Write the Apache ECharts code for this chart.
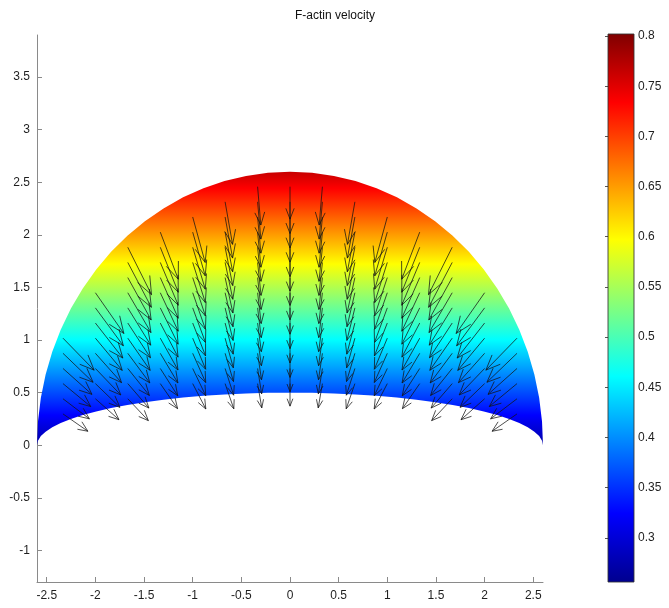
<!DOCTYPE html>
<html>
<head>
<meta charset="utf-8">
<style>html,body{margin:0;padding:0;background:#fff}#c{width:669px;height:608px}</style>
<script src="https://cdn.jsdelivr.net/npm/echarts@6/dist/echarts.min.js"></script>
</head>
<body>
<div id="c"></div>
<script>
// ---- tick labels ----
const xTicks = [-2.5, -2, -1.5, -1, -0.5, 0, 0.5, 1, 1.5, 2, 2.5];
const yTicks = [-1, -0.5, 0, 0.5, 1, 1.5, 2, 2.5, 3, 3.5];
const cbTicks = [0.3, 0.35, 0.4, 0.45, 0.5, 0.55, 0.6, 0.65, 0.7, 0.75, 0.8];
const cbRange = [0.256, 0.802];

// ---- lamellipodium outline ----
const boundaryX = [-2.6, -2.59, -2.5605, -2.5114, -2.4432, -2.3564, -2.2517, -2.1298, -1.9917, -1.8385, -1.6713, -1.4913, -1.3, -1.0988, -0.8893, -0.6729, -0.4515, -0.2266, 0,
  0.2266, 0.4515, 0.6729, 0.8893, 1.0988, 1.3, 1.4913, 1.6713, 1.8385, 1.9917, 2.1298, 2.2517, 2.3564, 2.4432, 2.5114, 2.5605, 2.59, 2.6];
const upperY = [0, 0.2266, 0.4515, 0.6729, 0.8893, 1.0988, 1.3, 1.4913, 1.6713, 1.8385, 1.9917, 2.1298, 2.2517, 2.3564, 2.4432, 2.5114, 2.5605, 2.5901, 2.6,
  2.5901, 2.5605, 2.5114, 2.4432, 2.3564, 2.2517, 2.1298, 1.9917, 1.8385, 1.6713, 1.4913, 1.3, 1.0988, 0.8893, 0.6729, 0.4515, 0.2266, 0];
const lowerY = [0, 0.0436, 0.0868, 0.1294, 0.171, 0.2113, 0.25, 0.2868, 0.3214, 0.3536, 0.383, 0.4096, 0.433, 0.4532, 0.4698, 0.483, 0.4924, 0.4981, 0.5,
  0.4981, 0.4924, 0.483, 0.4698, 0.4532, 0.433, 0.4096, 0.383, 0.3536, 0.3214, 0.2868, 0.25, 0.2113, 0.171, 0.1294, 0.0868, 0.0436, 0];

// colour value at the rear and at the front of the region
const fieldY = [0, 2.6];
const fieldV = [0.27, 0.764];

// ---- jet colormap ----
const jetPos = [0, 0.125, 0.375, 0.625, 0.875, 1];
const jetColors = ['#00008f', '#0000ff', '#00ffff', '#ffff00', '#ff0000', '#800000'];

// ---- velocity arrows: tail positions per column and components ----
const colX = [-2.333, -2, -1.667, -1.333, -1, -0.667, -0.333, 0, 0.333, 0.667, 1, 1.333, 1.667, 2, 2.333];
const colY = [
  [0.298, 0.442, 0.586, 0.73, 0.874, 1.018],
  [0.442, 0.586, 0.73, 0.874, 1.018, 1.162, 1.306, 1.45],
  [0.442, 0.586, 0.73, 0.874, 1.018, 1.162, 1.306, 1.45, 1.594, 1.738, 1.882],
  [0.586, 0.73, 0.874, 1.018, 1.162, 1.306, 1.45, 1.594, 1.738, 1.882, 2.026],
  [0.586, 0.73, 0.874, 1.018, 1.162, 1.306, 1.45, 1.594, 1.738, 1.882, 2.026, 2.17],
  [0.586, 0.73, 0.874, 1.018, 1.162, 1.306, 1.45, 1.594, 1.738, 1.882, 2.026, 2.17, 2.314],
  [0.586, 0.73, 0.874, 1.018, 1.162, 1.306, 1.45, 1.594, 1.738, 1.882, 2.026, 2.17, 2.314, 2.458],
  [0.586, 0.73, 0.874, 1.018, 1.162, 1.306, 1.45, 1.594, 1.738, 1.882, 2.026, 2.17, 2.314, 2.458],
  [0.586, 0.73, 0.874, 1.018, 1.162, 1.306, 1.45, 1.594, 1.738, 1.882, 2.026, 2.17, 2.314, 2.458],
  [0.586, 0.73, 0.874, 1.018, 1.162, 1.306, 1.45, 1.594, 1.738, 1.882, 2.026, 2.17, 2.314],
  [0.586, 0.73, 0.874, 1.018, 1.162, 1.306, 1.45, 1.594, 1.738, 1.882, 2.026, 2.17],
  [0.586, 0.73, 0.874, 1.018, 1.162, 1.306, 1.45, 1.594, 1.738, 1.882, 2.026],
  [0.442, 0.586, 0.73, 0.874, 1.018, 1.162, 1.306, 1.45, 1.594, 1.738, 1.882],
  [0.442, 0.586, 0.73, 0.874, 1.018, 1.162, 1.306, 1.45],
  [0.298, 0.442, 0.586, 0.73, 0.874, 1.018]
];
const colU = [
  [0.256, 0.2715, 0.2853, 0.298, 0.3094, 0.32],
  [0.2428, 0.2526, 0.2613, 0.2691, 0.276, 0.2821, 0.2876, 0.2925],
  [0.2111, 0.2169, 0.2219, 0.2262, 0.2299, 0.2331, 0.2359, 0.2383, 0.2404, 0.2422, 0.2437],
  [0.1778, 0.1795, 0.1809, 0.182, 0.1829, 0.1835, 0.184, 0.1844, 0.1847, 0.1849, 0.185],
  [0.1351, 0.1345, 0.1338, 0.1332, 0.1325, 0.1318, 0.1311, 0.1305, 0.1299, 0.1293, 0.1288, 0.1282],
  [0.0895, 0.0878, 0.0863, 0.0848, 0.0836, 0.0824, 0.0814, 0.0805, 0.0796, 0.0788, 0.078, 0.0773, 0.0767],
  [0.0431, 0.0417, 0.0405, 0.0394, 0.0384, 0.0376, 0.0368, 0.0362, 0.0356, 0.035, 0.0345, 0.034, 0.0336, 0.0332],
  [0, 0, 0, 0, 0, 0, 0, 0, 0, 0, 0, 0, 0, 0],
  [-0.0431, -0.0417, -0.0405, -0.0394, -0.0384, -0.0376, -0.0368, -0.0362, -0.0356, -0.035, -0.0345, -0.034, -0.0336, -0.0332],
  [-0.0895, -0.0878, -0.0863, -0.0848, -0.0836, -0.0824, -0.0814, -0.0805, -0.0796, -0.0788, -0.078, -0.0773, -0.0767],
  [-0.1351, -0.1345, -0.1338, -0.1332, -0.1325, -0.1318, -0.1311, -0.1305, -0.1299, -0.1293, -0.1288, -0.1282],
  [-0.1778, -0.1795, -0.1809, -0.182, -0.1829, -0.1835, -0.184, -0.1844, -0.1847, -0.1849, -0.185],
  [-0.2111, -0.2169, -0.2219, -0.2262, -0.2299, -0.2331, -0.2359, -0.2383, -0.2404, -0.2422, -0.2437],
  [-0.2428, -0.2526, -0.2613, -0.2691, -0.276, -0.2821, -0.2876, -0.2925],
  [-0.256, -0.2715, -0.2853, -0.298, -0.3094, -0.32]
];
const colV = [
  [-0.165, -0.191, -0.2184, -0.2465, -0.2751, -0.3041],
  [-0.1993, -0.2255, -0.2521, -0.279, -0.3061, -0.3331, -0.3603, -0.3875],
  [-0.2079, -0.2324, -0.2569, -0.2815, -0.3059, -0.3303, -0.3546, -0.3788, -0.4029, -0.4268, -0.4506],
  [-0.2382, -0.2599, -0.2815, -0.3028, -0.3241, -0.345, -0.3658, -0.3865, -0.407, -0.4274, -0.4477],
  [-0.2412, -0.2595, -0.2775, -0.2954, -0.3129, -0.3304, -0.3476, -0.3646, -0.3817, -0.3986, -0.4154, -0.4321],
  [-0.2396, -0.254, -0.2682, -0.2821, -0.296, -0.3097, -0.3234, -0.337, -0.3505, -0.364, -0.3773, -0.3907, -0.4041],
  [-0.231, -0.2415, -0.252, -0.2624, -0.2726, -0.2829, -0.2932, -0.3035, -0.3137, -0.3238, -0.334, -0.3442, -0.3544, -0.3646],
  [-0.2143, -0.2215, -0.2287, -0.2359, -0.2431, -0.2503, -0.2575, -0.2647, -0.2719, -0.2791, -0.2863, -0.2935, -0.3007, -0.3079],
  [-0.231, -0.2415, -0.252, -0.2624, -0.2726, -0.2829, -0.2932, -0.3035, -0.3137, -0.3238, -0.334, -0.3442, -0.3544, -0.3646],
  [-0.2396, -0.254, -0.2682, -0.2821, -0.296, -0.3097, -0.3234, -0.337, -0.3505, -0.364, -0.3773, -0.3907, -0.4041],
  [-0.2412, -0.2595, -0.2775, -0.2954, -0.3129, -0.3304, -0.3476, -0.3646, -0.3817, -0.3986, -0.4154, -0.4321],
  [-0.2382, -0.2599, -0.2815, -0.3028, -0.3241, -0.345, -0.3658, -0.3865, -0.407, -0.4274, -0.4477],
  [-0.2079, -0.2324, -0.2569, -0.2815, -0.3059, -0.3303, -0.3546, -0.3788, -0.4029, -0.4268, -0.4506],
  [-0.1993, -0.2255, -0.2521, -0.279, -0.3061, -0.3331, -0.3603, -0.3875],
  [-0.165, -0.191, -0.2184, -0.2465, -0.2751, -0.3041]
];

// ---- build option ----
const arrowData = [];
colX.forEach((x, c) => {
  colY[c].forEach((y, r) => arrowData.push([x, y, colU[c][r], colV[c][r]]));
});

function yForValue(v) {
  return fieldY[0] + (v - fieldV[0]) * (fieldY[1] - fieldY[0]) / (fieldV[1] - fieldV[0]);
}
function jetStops() {
  return jetPos.map((p, i) => ({ offset: p, color: jetColors[i] }));
}

const FONT = 'Liberation Sans';
const axisGray = '#8a8a8a';
const labelColor = '#1e1e1e';

const chart = echarts.init(document.getElementById('c'), null, { renderer: 'canvas' });

const option = {
  backgroundColor: '#ffffff',
  animation: false,
  title: {
    text: 'F-actin velocity',
    left: 330, top: 5, textAlign: 'center',
    textStyle: { fontFamily: FONT, fontSize: 12, fontWeight: 'normal', color: '#111' }
  },
  grid: [
    { left: 37, top: 35, width: 506, height: 547, outerBoundsMode: 'none', containLabel: false },
    { left: 608, top: 34, width: 26, height: 548, outerBoundsMode: 'none', containLabel: false }
  ],
  xAxis: [
    {
      gridIndex: 0, type: 'value', min: -2.6, max: 2.6,
      axisLine: { show: true, onZero: false, lineStyle: { color: axisGray, width: 1 } },
      axisTick: { show: true, inside: true, length: 5, customValues: xTicks, lineStyle: { color: axisGray } },
      axisLabel: { show: true, customValues: xTicks, margin: 8, fontFamily: FONT, fontSize: 12, color: labelColor,
        showMinLabel: true, showMaxLabel: true },
      splitLine: { show: false }
    },
    { gridIndex: 1, type: 'value', min: 0, max: 1, show: false }
  ],
  yAxis: [
    {
      gridIndex: 0, type: 'value', min: -1.3, max: 3.9,
      axisLine: { show: true, onZero: false, lineStyle: { color: axisGray, width: 1 } },
      axisTick: { show: true, inside: true, length: 5, customValues: yTicks, lineStyle: { color: axisGray } },
      axisLabel: { show: true, customValues: yTicks, margin: 7, fontFamily: FONT, fontSize: 12, color: labelColor },
      splitLine: { show: false }
    },
    {
      gridIndex: 1, type: 'value', min: cbRange[0], max: cbRange[1], position: 'right',
      axisLine: { show: false },
      axisTick: { show: true, inside: true, length: 3, customValues: cbTicks, lineStyle: { color: '#555' } },
      axisLabel: { show: true, customValues: cbTicks, margin: 4, fontFamily: FONT, fontSize: 12, color: labelColor },
      splitLine: { show: false }
    },
    {
      gridIndex: 1, type: 'value', min: cbRange[0], max: cbRange[1], position: 'left',
      axisLine: { show: false },
      axisTick: { show: true, inside: true, length: 3, customValues: cbTicks, lineStyle: { color: '#555' } },
      axisLabel: { show: false },
      splitLine: { show: false }
    }
  ],
  series: [
    {
      type: 'custom', name: 'region', xAxisIndex: 0, yAxisIndex: 0, clip: false, silent: true,
      data: [[0, 0]],
      renderItem: function (params, api) {
        const pts = [];
        for (let i = 0; i < boundaryX.length; i++) pts.push(api.coord([boundaryX[i], upperY[i]]));
        for (let i = boundaryX.length - 1; i >= 0; i--) pts.push(api.coord([boundaryX[i], lowerY[i]]));
        const pBot = api.coord([0, yForValue(cbRange[0])]);
        const pTop = api.coord([0, yForValue(cbRange[1])]);
        return {
          type: 'polygon',
          shape: { points: pts },
          style: {
            fill: { type: 'linear', x: 0, y: pBot[1], x2: 0, y2: pTop[1], global: true, colorStops: jetStops() },
            stroke: null
          }
        };
      },
      z: 2
    },
    {
      type: 'custom', name: 'velocity', xAxisIndex: 0, yAxisIndex: 0, clip: false, silent: true,
      dimensions: ['x', 'y', 'u', 'v'],
      encode: { x: 0, y: 1 },
      data: arrowData,
      renderItem: function (params, api) {
        const x = api.value(0), y = api.value(1), u = api.value(2), v = api.value(3);
        const alpha = 0.33, beta = 0.42;
        const tail = api.coord([x, y]);
        const tip = api.coord([x + u, y + v]);
        const h1 = api.coord([x + u - alpha * (u + beta * v), y + v - alpha * (v - beta * u)]);
        const h2 = api.coord([x + u - alpha * (u - beta * v), y + v - alpha * (v + beta * u)]);
        const st = { stroke: 'rgba(20,20,20,0.75)', lineWidth: 1, fill: null };
        return {
          type: 'group',
          children: [
            { type: 'line', shape: { x1: tail[0], y1: tail[1], x2: tip[0], y2: tip[1] }, style: st },
            { type: 'polyline', shape: { points: [h1, tip, h2] }, style: st }
          ]
        };
      },
      z: 5
    },
    {
      type: 'custom', name: 'colorbar', xAxisIndex: 1, yAxisIndex: 1, clip: false, silent: true,
      data: [[0, cbRange[0]]],
      renderItem: function (params, api) {
        const p0 = api.coord([0, cbRange[0]]);
        const p1 = api.coord([1, cbRange[1]]);
        return {
          type: 'rect',
          shape: { x: p0[0], y: p1[1], width: p1[0] - p0[0], height: p0[1] - p1[1] },
          style: {
            fill: { type: 'linear', x: 0, y: p0[1], x2: 0, y2: p1[1], global: true, colorStops: jetStops() },
            stroke: 'rgba(50,50,50,0.85)', lineWidth: 1
          }
        };
      },
      z: 1
    }
  ]
};
chart.setOption(option);
</script>
</body>
</html>
